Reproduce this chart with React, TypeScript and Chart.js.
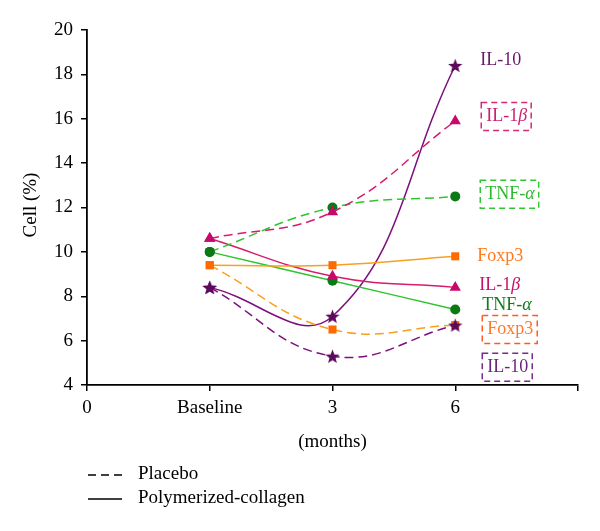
import React, { useEffect, useRef } from 'react';
import { Chart, registerables } from 'chart.js';

Chart.register(...registerables);

// x positions of the three time points (Baseline, 3 months, 6 months)
const timePoints = [1, 2, 3];
const xTickLabels = ['0', 'Baseline', '3', '6', ''];

// Placebo (dashed)
const placeboIL1b = [10.6, 11.8, 15.9];
const placeboTNFa = [10.0, 12.0, 12.5];
const placeboFoxp3 = [9.4, 6.5, 6.7];
const placeboIL10 = [8.4, 5.3, 6.7];

// Polymerized-collagen (solid)
const collagenIL10 = [8.4, 7.1, 18.4];
const collagenIL1b = [10.6, 8.9, 8.4];
const collagenTNFa = [10.0, 8.7, 7.4];
const collagenFoxp3 = [9.4, 9.4, 9.8];

// right-hand series labels: [plain text, greek suffix]
const labelTexts = [
  ['IL-10', ''],
  ['IL-1', 'β'],
  ['TNF-', 'α'],
  ['Foxp3', ''],
  ['IL-1', 'β'],
  ['TNF-', 'α'],
  ['Foxp3', ''],
  ['IL-10', ''],
];
const labelValues = [18.65, 16.1, 12.6, 9.8, 8.5, 7.6, 6.5, 4.8];
const labelBoxed = [false, true, true, false, false, false, true, true];

const legendTexts = ['Placebo', 'Polymerized-collagen'];

const SERIF = '"Liberation Serif", "Times New Roman", serif';

function makeStar(color: string, size: number) {
  const c = document.createElement('canvas');
  c.width = size;
  c.height = size;
  const ctx = c.getContext('2d')!;
  const cx = size / 2;
  const cy = size / 2 + 0.8;
  const outer = size / 2;
  const inner = outer * 0.42;
  ctx.beginPath();
  for (let i = 0; i < 10; i++) {
    const r = i % 2 === 0 ? outer : inner;
    const a = -Math.PI / 2 + (i * Math.PI) / 5;
    const px = cx + r * Math.cos(a);
    const py = cy + r * Math.sin(a);
    if (i === 0) ctx.moveTo(px, py);
    else ctx.lineTo(px, py);
  }
  ctx.closePath();
  ctx.fillStyle = color;
  ctx.fill();
  return c;
}

const toXY = (vals: number[]) => vals.map((v, i) => ({ x: timePoints[i], y: v }));

export default function App() {
  const ref = useRef<HTMLCanvasElement | null>(null);

  useEffect(() => {
    document.body.style.margin = '0';
    const canvas = ref.current!;
    const star = makeStar('#5c0a5c', 15);

    const purpleLine = '#7d0f7d';
    const magentaLine = '#d81b6e';
    const magentaMark = '#c8086a';
    const greenLine = '#2fc42f';
    const greenMark = '#0a7a14';
    const orangeLine = '#f8a020';
    const orangeMark = '#ff6a00';
    const dash = [9, 5];

    const mk = (
      vals: number[],
      line: string,
      mark: string,
      style: any,
      radius: number,
      dashed: boolean
    ) => ({
      data: toXY(vals),
      borderColor: line,
      borderWidth: 1.5,
      borderDash: dashed ? dash : [],
      backgroundColor: mark,
      pointBackgroundColor: mark,
      pointBorderColor: mark,
      pointBorderWidth: 0,
      pointStyle: style,
      pointRadius: radius,
      tension: 0.42,
      fill: false,
    });

    const datasets = [
      mk(placeboIL10, purpleLine, '#5c0a5c', star, 7, true),
      mk(placeboFoxp3, orangeLine, orangeMark, 'rect', 5.7, true),
      mk(placeboIL1b, magentaLine, magentaMark, 'triangle', 6.5, true),
      mk(placeboTNFa, greenLine, greenMark, 'circle', 5, true),
      mk(collagenFoxp3, orangeLine, orangeMark, 'rect', 5.7, false),
      mk(collagenIL1b, magentaLine, magentaMark, 'triangle', 6.5, false),
      mk(collagenTNFa, greenLine, greenMark, 'circle', 5, false),
      mk(collagenIL10, purpleLine, '#5c0a5c', star, 7, false),
    ];

    const labelColors = ['#6a156a', '#cc1f72', '#2fb82f', '#ff7a1c', '#c8106a', '#137a1a', '#ff7a28', '#6e2280'];
    const boxColors = ['', '#d42a78', '#33c433', '', '', '', '#ff5a22', '#7a2a8a'];
    const labelDx = [25, 31, 30, 22, 24, 27, 32, 32];

    const overlay = {
      id: 'overlay',
      afterDraw(chart: any) {
        const ctx = chart.ctx as CanvasRenderingContext2D;
        const xs = chart.scales.x;
        const ys = chart.scales.y;
        ctx.save();
        // axis titles
        ctx.fillStyle = '#000';
        ctx.font = `19px ${SERIF}`;
        ctx.textAlign = 'center';
        ctx.textBaseline = 'middle';
        ctx.fillText('(months)', xs.getPixelForValue(2), 442);
        ctx.save();
        ctx.translate(31, 205);
        ctx.rotate(-Math.PI / 2);
        ctx.fillText('Cell (%)', 0, 0);
        ctx.restore();

        // series labels
        const x0 = xs.getPixelForValue(3);
        ctx.textAlign = 'left';
        for (let i = 0; i < labelTexts.length; i++) {
          const [plain, greek] = labelTexts[i];
          const lx = x0 + labelDx[i];
          const ly = ys.getPixelForValue(labelValues[i]);
          ctx.fillStyle = labelColors[i];
          ctx.font = `18px ${SERIF}`;
          ctx.fillText(plain, lx, ly);
          let w = ctx.measureText(plain).width;
          if (greek) {
            ctx.font = `italic 18px ${SERIF}`;
            ctx.fillText(greek, lx + w, ly);
            w += ctx.measureText(greek).width;
          }
          if (labelBoxed[i]) {
            ctx.strokeStyle = boxColors[i];
            ctx.lineWidth = 1.5;
            ctx.setLineDash([6, 4]);
            ctx.strokeRect(lx - 5, ly - 14, w + 9, 28);
            ctx.setLineDash([]);
          }
        }

        // legend
        ctx.strokeStyle = '#000';
        ctx.lineWidth = 1.3;
        ctx.setLineDash([8, 5]);
        ctx.beginPath();
        ctx.moveTo(88, 475);
        ctx.lineTo(122, 475);
        ctx.stroke();
        ctx.setLineDash([]);
        ctx.beginPath();
        ctx.moveTo(88, 499);
        ctx.lineTo(122, 499);
        ctx.stroke();
        ctx.fillStyle = '#000';
        ctx.font = `19px ${SERIF}`;
        ctx.textAlign = 'left';
        ctx.fillText(legendTexts[0], 138, 474);
        ctx.fillText(legendTexts[1], 138, 498);
        ctx.restore();
      },
    };

    const chart = new Chart(canvas, {
      type: 'line',
      data: { datasets },
      options: {
        responsive: false,
        animation: false,
        layout: { padding: { top: 30, right: 22, left: 0, bottom: 0 } },
        plugins: { legend: { display: false }, tooltip: { enabled: false } },
        scales: {
          x: {
            type: 'linear',
            min: 0,
            max: 4,
            afterFit: (s: any) => {
              s.height = 146;
            },
            ticks: {
              stepSize: 1,
              color: '#000',
              font: { family: SERIF, size: 19 },
              padding: 6,
              maxRotation: 0,
              callback: (v: any) => xTickLabels[v as number] ?? '',
            },
            grid: { drawOnChartArea: false, drawTicks: true, tickLength: 6, color: '#000', lineWidth: 1.5 },
            border: { color: '#000', width: 1.8 },
          },
          y: {
            min: 4,
            max: 20,
            afterFit: (s: any) => {
              s.width = 87;
            },
            ticks: {
              stepSize: 2,
              color: '#000',
              font: { family: SERIF, size: 19 },
              padding: 8,
            },
            grid: { drawOnChartArea: false, drawTicks: true, tickLength: 6, color: '#000', lineWidth: 1.5 },
            border: { color: '#000', width: 1.8 },
          },
        },
      },
      plugins: [overlay],
    } as any);

    return () => chart.destroy();
  }, []);

  return <canvas ref={ref} width={600} height={531} style={{ display: 'block' }} />;
}
